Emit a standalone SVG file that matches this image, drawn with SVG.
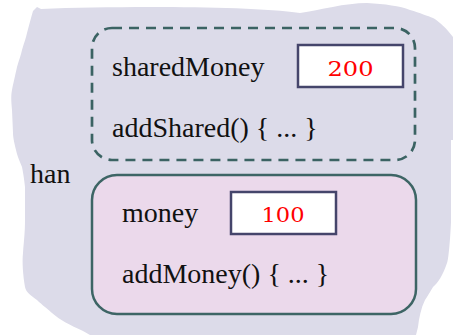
<svg xmlns="http://www.w3.org/2000/svg" width="453" height="335" viewBox="0 0 453 335">
<style>
.t{font-family:"Liberation Serif","DejaVu Serif",serif;font-size:28px;fill:#111}
.v{font-family:"DejaVu Serif","Liberation Serif",serif;font-size:21px;fill:#ff0000;text-anchor:middle}
.val{fill:#ffffff;stroke:#45456b;stroke-width:2.5}
</style>
<g id="han">
<path d="M33 11 L37 7 L41 9 C120 6 250 6 300 13 C320 10 345 3 367 3 C385 4 400 6 410 10 C420 13 428 16 433 18 C440 22 446 28 453 37 L453 140 L451 140 L451 222 C450 245 448 262 447 263 C443 275 438 283 433 287 C430 292 427 297 425 300 C421 308 419 318 418 327 L416 335 L90 335 L83 331 C70 325 60 320 52 313 C45 307 40 303 37 300 C30 295 26 292 25 287 C23 275 22 262 23 253 C24 240 25 232 25 220 L25 187 C24 178 23 172 22 167 C19 160 17 155 16 150 C14 142 13 137 13 133 L12 110 C11 100 11 95 12 90 C14 80 16 72 17 67 C19 60 21 55 22 50 C24 43 26 38 27 33 C29 25 31 18 33 11 Z" fill="#dcdbe9"/>
<text class="t" x="30" y="183">han</text>
</g>
<g id="shared">
<rect x="92" y="28" width="323" height="132" rx="20" ry="20" fill="none" stroke="#3b6363" stroke-width="2.7" stroke-dasharray="10 7"/>
<text class="t" x="112" y="76">sharedMoney</text>
<rect class="val" x="298" y="45" width="105" height="42"/>
<text class="v" x="350.5" y="76" textLength="46" lengthAdjust="spacingAndGlyphs">200</text>
<text class="t" x="112" y="137">addShared() { ... }</text>
</g>
<g id="own">
<rect x="92" y="175" width="324" height="139" rx="25" ry="25" fill="#ebd9eb" stroke="#3d6565" stroke-width="2.5"/>
<text class="t" x="122" y="222">money</text>
<rect class="val" x="231" y="192" width="105" height="42"/>
<text class="v" x="283" y="222" textLength="43" lengthAdjust="spacingAndGlyphs">100</text>
<text class="t" x="122" y="283">addMoney() { ... }</text>
</g>
<g id="connectors"/>
</svg>
